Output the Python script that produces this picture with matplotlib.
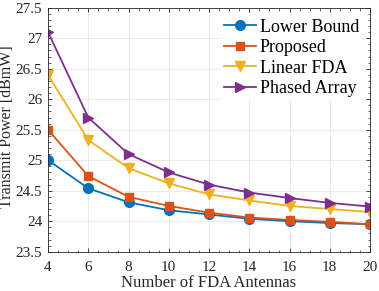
import matplotlib
matplotlib.use("Agg")
import matplotlib.pyplot as plt
from matplotlib.ticker import MultipleLocator

plt.rcParams['font.family'] = ['Liberation Serif', 'DejaVu Serif']
plt.rcParams['mathtext.fontset'] = 'stix'

n_antennas = [4, 6, 8, 10, 12, 14, 16, 18, 20]
lower_bound = [25.00, 24.54, 24.31, 24.18, 24.11, 24.04, 24.00, 23.97, 23.95]
proposed = [25.50, 24.74, 24.40, 24.25, 24.14, 24.06, 24.02, 23.99, 23.95]
linear_fda = [26.40, 25.33, 24.87, 24.62, 24.44, 24.34, 24.25, 24.20, 24.15]
phased_array = [27.10, 25.70, 25.10, 24.80, 24.60, 24.47, 24.38, 24.30, 24.24]

labels = ['Lower Bound', 'Proposed', 'Linear FDA', 'Phased Array']
colors = ['#0072BD', '#D95319', '#EDB120', '#7E2F8E']
markers = ['o', 's', 'v', '>']
sizes = [7, 6, 7, 7]

fig = plt.figure(figsize=(3.79, 2.91), dpi=100)
ax = fig.add_axes([48/379, 1 - 251.7/291, (370-48)/379, (251.7-7.7)/291])

for ys, lab, c, m, s in zip([lower_bound, proposed, linear_fda, phased_array], labels, colors, markers, sizes):
    ax.plot(n_antennas, ys, color=c, marker=m, markersize=s, linewidth=1.3, label=lab)

ax.set_xlim(4, 20)
ax.set_ylim(23.5, 27.5)
ax.set_xticks(range(4, 21, 2))
ax.set_yticks([23.5, 24, 24.5, 25, 25.5, 26, 26.5, 27, 27.5])
ax.set_yticklabels(['23.5', '24', '24.5', '25', '25.5', '26', '26.5', '27', '27.5'])
ax.xaxis.set_minor_locator(MultipleLocator(0.5))
ax.yaxis.set_minor_locator(MultipleLocator(0.1))
ax.tick_params(which='both', direction='in', top=True, right=True, labelsize=11, colors='#262626')
ax.tick_params(which='major', length=3, width=0.6)
ax.tick_params(which='minor', length=1.8, width=0.5)
ax.tick_params(axis='x', which='major', pad=7)
ax.tick_params(axis='y', which='major', pad=4)
for sp in ax.spines.values():
    sp.set_color('#262626')
    sp.set_linewidth(0.6)
ax.grid(True, color='#e6e6e6', linewidth=0.6)
ax.set_axisbelow(True)

fig.text(209/379, 1 - 287/291, 'Number of FDA Antennas', ha='center', va='baseline',
         fontsize=12, color='#262626')
fig.text(7/379, 1 - 126.5/291, 'Transmit Power [dBmW]', rotation=90, ha='center', va='center',
         fontsize=11.5, color='#262626')

leg = ax.legend(loc='upper right', fontsize=13, frameon=True, fancybox=False,
                handlelength=1.8, handletextpad=0.2, borderpad=0.15,
                labelspacing=0.2, borderaxespad=0.45)
leg.get_frame().set_facecolor('white')
leg.get_frame().set_edgecolor('none')
leg.get_frame().set_alpha(1)

fig.savefig('out.png', dpi=100)
